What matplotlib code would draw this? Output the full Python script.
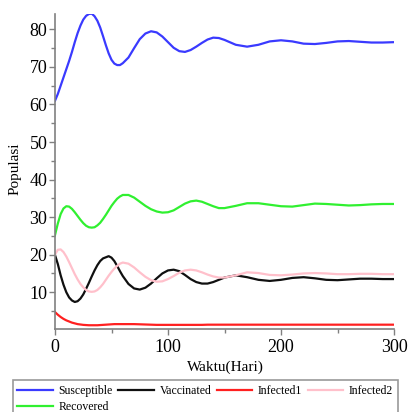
import matplotlib
matplotlib.use("Agg")
import matplotlib.pyplot as plt
from matplotlib.ticker import MultipleLocator

plt.rcParams['font.family'] = ['Liberation Serif', 'DejaVu Serif']

# waktu (hari): rapat di awal, jarang di akhir
t = [0, 2.5, 5, 7.5, 10, 12.5, 15, 17.5, 20, 22.5, 25, 27.5, 30, 32.5, 35, 37.5,
     40, 42.5, 45, 47.5, 50, 52.5, 55, 57.5, 60,
     65, 70, 75, 80, 85, 90, 95, 100, 105, 110, 115, 120, 125, 130, 135, 140, 145, 150,
     160, 170, 180, 190, 200, 210, 220, 230, 240, 250, 260, 270, 280, 290, 300]

susceptible = [61.0, 62.8, 65.0, 67.2, 69.4, 71.6, 74.0, 76.6, 79.0, 81.0, 82.6, 83.6,
               84.1, 84.2, 83.5, 82.3, 80.5, 78.2, 75.8, 73.6, 71.9, 70.9, 70.5, 70.5, 71.0,
               72.5, 75.0, 77.4, 78.9, 79.5, 79.2, 78.1, 76.6, 75.1, 74.2, 74.0, 74.5,
               75.4, 76.4, 77.3, 77.8, 77.7, 77.2,
               75.9, 75.4, 75.9, 76.8, 77.1, 76.8, 76.2, 76.1, 76.4, 76.8, 76.9, 76.7,
               76.5, 76.5, 76.6]

vaccinated = [19.9, 17.5, 14.5, 12.0, 10.0, 8.6, 7.8, 7.4, 7.6, 8.3, 9.4, 10.9, 12.5,
              14.2, 15.8, 17.2, 18.3, 19.0, 19.3, 19.6, 19.2, 18.3, 17.0, 15.6, 14.3,
              12.2, 11.0, 10.7, 11.2, 12.3, 13.7, 15.0, 15.8, 16.0, 15.6, 14.6, 13.5,
              12.7, 12.3, 12.3, 12.7, 13.3, 13.9,
              14.5, 14.0, 13.3, 13.0, 13.3, 13.8, 14.0, 13.7, 13.3, 13.2, 13.4, 13.6,
              13.6, 13.5, 13.5]

infected1 = [4.7, 4.0, 3.4, 2.9, 2.5, 2.2, 1.9, 1.7, 1.5, 1.4, 1.3, 1.25, 1.2, 1.2,
             1.2, 1.2, 1.25, 1.3, 1.35, 1.4, 1.45, 1.5, 1.5, 1.5, 1.5,
             1.5, 1.5, 1.45, 1.4, 1.35, 1.3, 1.3, 1.3, 1.3, 1.3, 1.3, 1.3, 1.3, 1.3,
             1.35, 1.35, 1.35, 1.35,
             1.35, 1.35, 1.35, 1.35, 1.35, 1.35, 1.35, 1.35, 1.35, 1.35, 1.35, 1.35,
             1.35, 1.35, 1.35]

infected2 = [20.0, 21.3, 21.4, 20.7, 19.5, 18.0, 16.4, 14.8, 13.4, 12.2, 11.3, 10.6,
             10.2, 10.1, 10.2, 10.6, 11.3, 12.2, 13.3, 14.4, 15.4, 16.3, 17.0, 17.6, 17.9,
             17.6, 16.6, 15.3, 14.1, 13.2, 12.8, 12.9, 13.5, 14.3, 15.2, 15.8, 16.0,
             15.8, 15.3, 14.7, 14.2, 13.9, 13.9,
             14.5, 15.3, 15.1, 14.6, 14.5, 14.7, 15.0, 15.1, 15.0, 14.8, 14.8, 14.9,
             14.9, 14.8, 14.8]

recovered = [25.2, 28.3, 30.8, 32.3, 32.9, 32.8, 32.2, 31.3, 30.3, 29.3, 28.4, 27.7,
             27.3, 27.2, 27.3, 27.8, 28.5, 29.5, 30.6, 31.8, 33.0, 34.0, 34.9, 35.5, 35.9,
             35.9, 35.2, 34.1, 33.0, 32.1, 31.5, 31.2, 31.3, 31.8, 32.7, 33.6, 34.2,
             34.4, 34.1, 33.5, 32.9, 32.4, 32.4,
             33.0, 33.7, 33.7, 33.3, 32.9, 32.8, 33.2, 33.6, 33.5, 33.3, 33.1, 33.2,
             33.4, 33.5, 33.5]

W, H = 408, 412
fig = plt.figure(figsize=(W / 100, H / 100), dpi=100)
ax = fig.add_axes([55 / W, 1 - 329 / H, (394 - 55) / W, (329 - 14) / H])

lw = 1.6
l_s, = ax.plot(t, susceptible, color='#3a3aff', lw=lw, label='Susceptible')
l_v, = ax.plot(t, vaccinated, color='#101010', lw=lw, label='Vaccinated')
l_i1, = ax.plot(t, infected1, color='#ff2020', lw=lw, label='Infected1')
l_i2, = ax.plot(t, infected2, color='#ffc0cb', lw=lw, label='Infected2')
l_r, = ax.plot(t, recovered, color='#30f030', lw=lw, label='Recovered')

ax.set_xlim(0, 300)
ax.set_ylim(0.2, 84.1)

for s in ['top', 'right']:
    ax.spines[s].set_visible(False)
for s in ['left', 'bottom']:
    ax.spines[s].set_color('#808080')
    ax.spines[s].set_linewidth(1.2)

ax.xaxis.set_major_locator(MultipleLocator(100))
ax.xaxis.set_minor_locator(MultipleLocator(50))
ax.yaxis.set_minor_locator(MultipleLocator(5))
ax.set_yticks([10, 20, 30, 40, 50, 60, 70, 80])
ax.tick_params(axis='both', which='major', direction='out', length=4, width=1,
               color='#808080', labelsize=13)
ax.tick_params(axis='both', which='minor', direction='out', length=3, width=1,
               color='#808080')
ax.tick_params(axis='y', pad=1.5)
ax.tick_params(axis='x', pad=3)

fig.text(15 / W, 1 - 169 / H, 'Populasi', rotation=90, fontsize=11,
         ha='center', va='center')
fig.text(225 / W, 1 - 367 / H, 'Waktu(Hari)', fontsize=11, ha='center', va='center')

# urutan kolom supaya baris pertama: S, V, I1, I2 dan baris kedua: R
handles = [l_s, l_r, l_v, l_i1, l_i2]
leg = fig.legend(handles, [h.get_label() for h in handles], loc='upper left',
                 bbox_to_anchor=(12.7 / W, 1 - 380 / H, (398 - 12.7) / W, 0),
                 mode='expand', ncol=4, fontsize=8.5, handlelength=3.0,
                 handletextpad=0.5, borderpad=0.4, labelspacing=0.4,
                 borderaxespad=0, fancybox=False, frameon=True)
leg.get_frame().set_edgecolor('#808080')
leg.get_frame().set_linewidth(1.2)

fig.savefig('out.png', dpi=100)
